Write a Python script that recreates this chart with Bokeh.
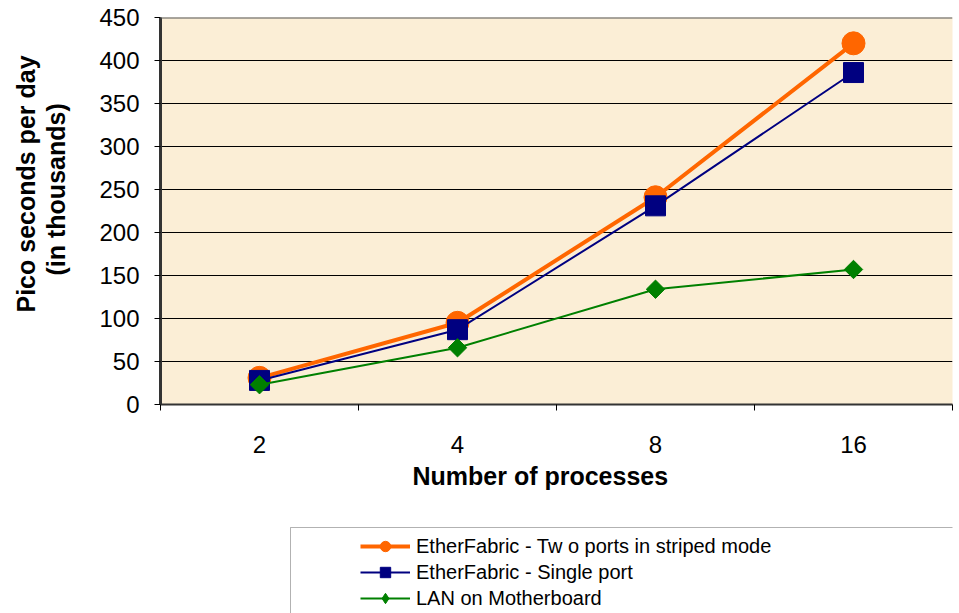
from bokeh.plotting import figure
from bokeh.layouts import column
from bokeh.models import (Range1d, FixedTicker, Legend, LegendItem, Span, Title,
                          ColumnDataSource, BoxAnnotation)
from bokeh.embed import file_html
from bokeh.resources import INLINE
import numpy as np

categories = ["2", "4", "8", "16"]
two_ports = [31, 95, 241, 420]
single_port = [28, 87, 231, 386]
lan_mobo = [23, 66, 134, 157]
series_names = ["EtherFabric - Tw o ports in striped mode",
                "EtherFabric - Single port",
                "LAN on Motherboard"]
y_ticks = [0, 50, 100, 150, 200, 250, 300, 350, 400, 450]
x_title = "Number of processes"
y_title_lines = ["Pico seconds per day", "(in thousands)"]

COLORS = ["#FF6600", "#000080", "#008000"]
FONT = "Liberation Sans"

xpos = [i + 0.5 for i in range(len(categories))]

p = figure(width=959, height=520, output_backend="svg", toolbar_location=None,
           x_range=Range1d(0, len(categories)), y_range=Range1d(0, 450),
           min_border_left=160, min_border_right=7, min_border_top=17, min_border_bottom=116)
p.background_fill_color = "#FBEED6"
p.border_fill_color = "white"
p.outline_line_color = None

# x axis
p.xaxis.ticker = FixedTicker(ticks=xpos, minor_ticks=list(range(len(categories) + 1)))
p.xaxis.major_label_overrides = {x: c for x, c in zip(xpos, categories)}
p.xaxis.major_tick_line_color = None
p.xaxis.major_tick_out = 0
p.xaxis.major_tick_in = 0
p.xaxis.minor_tick_out = 6
p.xaxis.minor_tick_in = 0
p.xaxis.minor_tick_line_color = "black"
p.xaxis.major_label_standoff = 25
p.xaxis.major_label_text_font = FONT
p.xaxis.major_label_text_font_size = "24px"
p.xaxis.major_label_text_color = "black"
p.xaxis.axis_line_color = "#333333"
p.xaxis.axis_line_width = 2

# y axis
p.yaxis.ticker = FixedTicker(ticks=y_ticks)
p.yaxis.minor_tick_line_color = None
p.yaxis.major_tick_out = 6
p.yaxis.major_tick_in = 0
p.yaxis.major_tick_line_color = "black"
p.yaxis.major_label_standoff = 15
p.yaxis.major_label_text_font = FONT
p.yaxis.major_label_text_font_size = "24px"
p.yaxis.major_label_text_color = "black"
p.yaxis.axis_line_color = "#333333"
p.yaxis.axis_line_width = 3

p.xgrid.grid_line_color = None
p.ygrid.grid_line_color = "black"
p.ygrid.grid_line_width = 1
p.add_layout(Span(location=450, dimension="width", line_color="#555555", line_width=2))

# axis titles (a blank spacer title first, so the two lines sit where the reference has them)
p.add_layout(Title(text=" ", align="left", standoff=-3, text_font=FONT,
                   text_font_size="25px", text_color="black"), "left")
p.add_layout(Title(text=y_title_lines[1], align="left", offset=129, standoff=0, text_font=FONT,
                   text_font_size="25px", text_font_style="bold", text_color="black"), "left")
p.add_layout(Title(text=y_title_lines[0], align="left", offset=92, standoff=0, text_font=FONT,
                   text_font_size="25px", text_font_style="bold", text_color="black"), "left")
p.add_layout(Title(text=x_title, align="left", offset=252, standoff=9, text_font=FONT,
                   text_font_size="25px", text_font_style="bold", text_color="black"), "below")

src = ColumnDataSource(dict(x=xpos, a=two_ports, b=single_port, c=lan_mobo))

p.line("x", "a", source=src, line_color=COLORS[0], line_width=4)
p.scatter("x", "a", source=src, marker="circle", size=23, fill_color=COLORS[0], line_color=COLORS[0])
p.line("x", "b", source=src, line_color=COLORS[1], line_width=2)
p.scatter("x", "b", source=src, marker="square", size=20, fill_color=COLORS[1], line_color=COLORS[1])
p.line("x", "c", source=src, line_color=COLORS[2], line_width=2)
p.scatter("x", "c", source=src, marker="square", angle=np.pi / 4, size=13,
          fill_color=COLORS[2], line_color=COLORS[2])

# legend strip (its frame is aligned with the chart's frame: 160..952 px)
q = figure(width=959, height=93, output_backend="svg", toolbar_location=None,
           x_range=Range1d(160, 952), y_range=Range1d(0, 93),
           min_border_left=160, min_border_right=7, min_border_top=0, min_border_bottom=0)
q.axis.visible = False
q.grid.visible = False
q.outline_line_color = None
q.background_fill_color = "white"
q.border_fill_color = "white"

q.add_layout(BoxAnnotation(left=290, right=1100, top=86, bottom=-100,
                           fill_color="white", fill_alpha=1, line_color="black", line_width=1))

markers = ["circle", "square", "diamond"]
widths = [4, 2, 2]
items = []
for name, col, lw, mk, key in zip(series_names, COLORS, widths, markers, ["a", "b", "c"]):
    # same series drawn again here only as legend samples; data lie outside this strip's range
    lr = q.line("x", key, source=src, line_color=col, line_width=lw)
    sr = q.scatter("x", key, source=src, marker=mk, fill_color=col, line_color=col)
    items.append(LegendItem(label=name, renderers=[lr, sr]))

legend = Legend(items=items, location=(200, 2), padding=5, spacing=0, margin=0,
                glyph_width=50, glyph_height=26, label_height=26, label_standoff=6,
                label_text_font=FONT, label_text_font_size="20px", label_text_color="black",
                border_line_color=None, background_fill_alpha=0)
q.add_layout(legend, "center")

open("out.html", "w").write(file_html(column(p, q, spacing=0), INLINE))
